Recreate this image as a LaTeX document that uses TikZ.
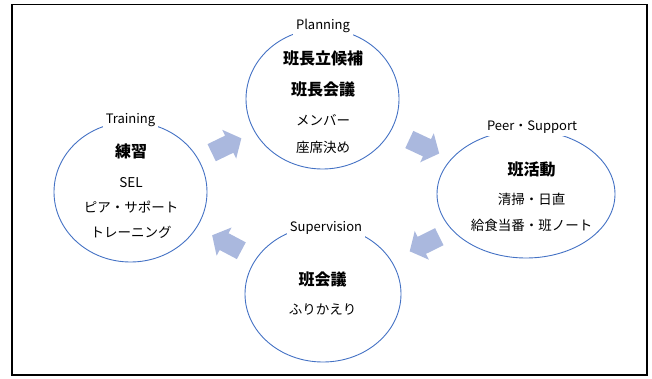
\documentclass[tikz,border=0pt]{standalone}
\usepackage{fontspec}
\setmainfont{Noto Sans CJK JP}
\usetikzlibrary{shapes.geometric}
\definecolor{ringblue}{RGB}{68,114,196}
\definecolor{arrowfill}{RGB}{170,184,222}
\tikzset{
  ring/.style={ellipse, draw=ringblue, line width=0.9pt, inner sep=0pt},
  tag/.style={fill=white, inner sep=3pt, font=\fontsize{13}{15}\selectfont},
  headtext/.style={inner sep=0pt, font=\fontsize{16}{18}\selectfont\bfseries},
  bodytext/.style={inner sep=0pt, font=\fontsize{13.5}{16}\selectfont},
  blockarrow/.pic={\fill[arrowfill] (-16.5,-9.5) -- (3,-9.5) -- (3,-16) -- (16.5,0) -- (3,16) -- (3,9.5) -- (-16.5,9.5) -- cycle;}
}
\begin{document}
\begin{tikzpicture}[x=1pt,y=-1pt]
\useasboundingbox (0,0) rectangle (652,378);
\draw[line width=1.5pt] (12,4.5) rectangle (647,375);

\node[ring, minimum width=153pt, minimum height=140pt] (pl) at (322.5,99) {};
\node[ring, minimum width=153pt, minimum height=140pt] (tr) at (130.5,192) {};
\node[ring, minimum width=178pt, minimum height=128pt] (ps) at (526,194) {};
\node[ring, minimum width=156pt, minimum height=136pt] (sv) at (323,294) {};

\path (tr.center) -- pic[pos=0.5, sloped, allow upside down] {blockarrow} (pl.center);
\path (pl.center) -- pic[pos=0.5, sloped, allow upside down] {blockarrow} (ps.center);
\path (ps.center) -- pic[pos=0.5, sloped, allow upside down] {blockarrow} (sv.center);
\path (sv.center) -- pic[pos=0.5, sloped, allow upside down] {blockarrow} (tr.center);

\node[tag] (plt) at (323,26) {Planning};
\node[headtext] (pl1) at (323,58) {班長立候補};
\node[headtext] (pl2) at (323,89) {班長会議};
\node[bodytext] (pl3) at (323,120) {メンバー};
\node[bodytext] (pl4) at (323,147) {座席決め};

\node[tag] (trt) at (130.5,120) {Training};
\node[headtext] (tr1) at (131,151) {練習};
\node[bodytext] (tr2) at (131,183) {SEL};
\node[bodytext] (tr3) at (131,207) {ピア・サポート};
\node[bodytext] (tr4) at (131,232) {トレーニング};

\node[tag] (pst) at (532,127) {Peer・Support};
\node[headtext] (ps1) at (531.5,169) {班活動};
\node[bodytext] (ps2) at (531.5,199) {清掃・日直};
\node[bodytext] (ps3) at (531.5,225) {給食当番・班ノート};

\node[tag] (svt) at (326,228) {Supervision};
\node[headtext] (sv1) at (322.5,279) {班会議};
\node[bodytext] (sv2) at (322.5,309) {ふりかえり};
\end{tikzpicture}
\end{document}
